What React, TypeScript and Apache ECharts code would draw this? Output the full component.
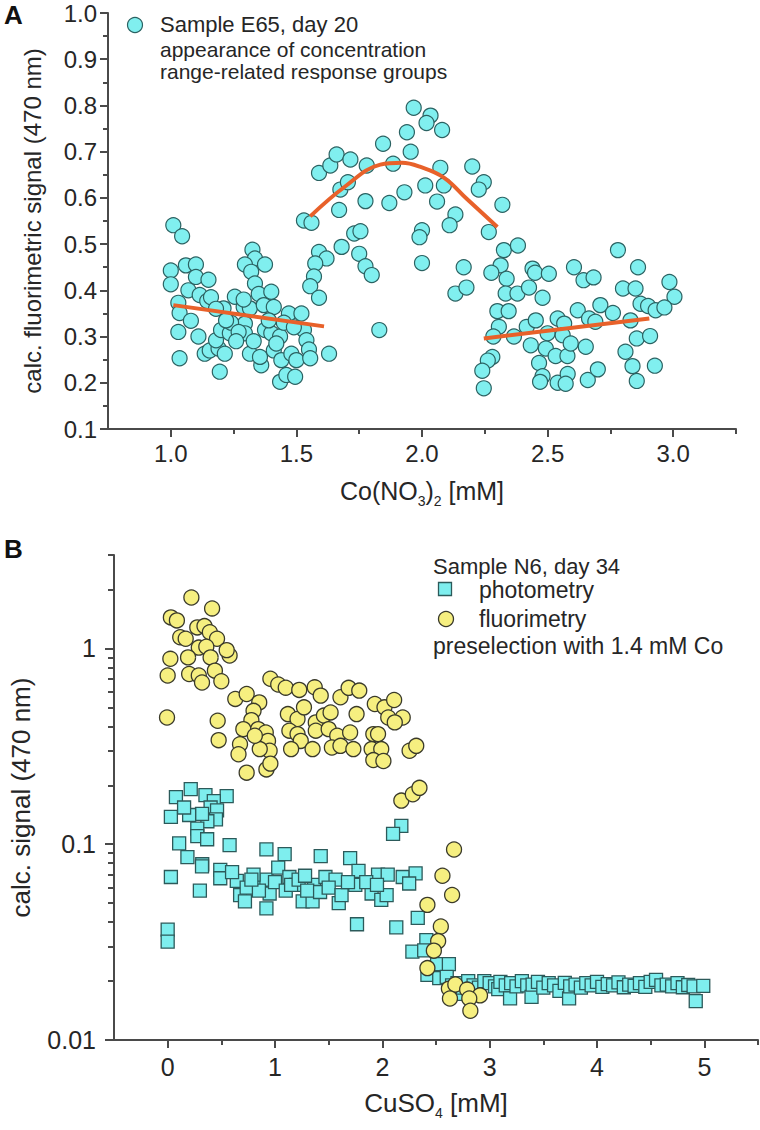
import React, { useEffect, useRef } from 'react';
import * as echarts from 'echarts';

// ---------- Panel A: Co(NO3)2 ----------
const coXTicks = [1.0, 1.5, 2.0, 2.5, 3.0];
const coXMinor = [1.25, 1.75, 2.25, 2.75, 3.25];

const sampleE65: [number, number][] = [
  [1.01, 0.541], [1.045, 0.517], [1.0, 0.443], [1.0, 0.413], [1.06, 0.454], [1.1, 0.456],
  [1.1, 0.429], [1.15, 0.423], [1.07, 0.4], [1.115, 0.39], [1.145, 0.377], [1.03, 0.373],
  [1.035, 0.351], [1.08, 0.334], [1.03, 0.31], [1.11, 0.3], [1.035, 0.253], [1.135, 0.263],
  [1.155, 0.27], [1.19, 0.274], [1.215, 0.263], [1.195, 0.224], [1.18, 0.292], [1.2, 0.314],
  [1.235, 0.307], [1.255, 0.386], [1.21, 0.361], [1.29, 0.364], [1.315, 0.361], [1.295, 0.328],
  [1.295, 0.307], [1.315, 0.263], [1.36, 0.238], [1.355, 0.256], [1.325, 0.488], [1.335, 0.469],
  [1.375, 0.456], [1.295, 0.456], [1.32, 0.44], [1.335, 0.415], [1.35, 0.392], [1.4, 0.397],
  [1.37, 0.368], [1.41, 0.364], [1.375, 0.314], [1.4, 0.307], [1.435, 0.3], [1.41, 0.27],
  [1.44, 0.249], [1.435, 0.202], [1.46, 0.217], [1.495, 0.213], [1.47, 0.35], [1.52, 0.35],
  [1.48, 0.263], [1.5, 0.249], [1.53, 0.314], [1.54, 0.292], [1.55, 0.272], [1.555, 0.253],
  [1.63, 0.263], [1.83, 0.314], [1.24, 0.33], [1.27, 0.31], [1.22, 0.335], [1.45, 0.33],
  [1.49, 0.32], [1.16, 0.385], [1.18, 0.36], [1.26, 0.29], [1.42, 0.285], [1.33, 0.29],
  [1.39, 0.335], [1.29, 0.38],
  [1.53, 0.551], [1.56, 0.546], [1.59, 0.483], [1.62, 0.469], [1.575, 0.458], [1.57, 0.43],
  [1.555, 0.409], [1.59, 0.384], [1.68, 0.494], [1.73, 0.523], [1.755, 0.528], [1.75, 0.479],
  [1.775, 0.452], [1.8, 0.433], [1.59, 0.654], [1.635, 0.67], [1.66, 0.694], [1.715, 0.683],
  [1.78, 0.67], [1.675, 0.618], [1.705, 0.634], [1.67, 0.574], [1.775, 0.593], [1.87, 0.589],
  [1.845, 0.717], [1.955, 0.7], [1.885, 0.674], [1.93, 0.612], [1.967, 0.795], [2.034, 0.778],
  [2.018, 0.762], [2.08, 0.747], [1.94, 0.742], [2.073, 0.665], [2.2, 0.668], [2.246, 0.634],
  [2.226, 0.618], [2.013, 0.627], [2.087, 0.627], [2.06, 0.592], [2.32, 0.585], [2.133, 0.564],
  [2.11, 0.541], [2.0, 0.53], [1.99, 0.515], [2.266, 0.526], [2.0, 0.459], [2.166, 0.45],
  [2.133, 0.393], [2.177, 0.406],
  [2.326, 0.487], [2.382, 0.497], [2.313, 0.454], [2.276, 0.438], [2.337, 0.425], [2.333, 0.393],
  [2.38, 0.393], [2.44, 0.447], [2.45, 0.438], [2.505, 0.436], [2.426, 0.406], [2.48, 0.384],
  [2.605, 0.45], [2.643, 0.422], [2.683, 0.428], [2.78, 0.487], [2.86, 0.45], [2.8, 0.404],
  [2.85, 0.404], [2.985, 0.418], [3.005, 0.386], [2.87, 0.371], [2.9, 0.366], [2.93, 0.357],
  [2.965, 0.363], [2.3, 0.355], [2.345, 0.355], [2.306, 0.321], [2.284, 0.3], [2.366, 0.3],
  [2.417, 0.321], [2.453, 0.335], [2.54, 0.339], [2.566, 0.328], [2.62, 0.357], [2.71, 0.368],
  [2.76, 0.351], [2.665, 0.339], [2.69, 0.332], [2.5, 0.307], [2.56, 0.303], [2.433, 0.281],
  [2.493, 0.274], [2.532, 0.258], [2.579, 0.258], [2.592, 0.285], [2.652, 0.278], [2.466, 0.243],
  [2.83, 0.335], [2.855, 0.296], [2.908, 0.301], [2.81, 0.267], [2.838, 0.236], [2.855, 0.204],
  [2.927, 0.237], [2.28, 0.256], [2.262, 0.248], [2.24, 0.226], [2.246, 0.188], [2.48, 0.214],
  [2.47, 0.202], [2.54, 0.2], [2.58, 0.219], [2.572, 0.198], [2.66, 0.206], [2.7, 0.229],
];

const fitLow: [number, number][] = [[1.01, 0.368], [1.61, 0.322]];
const fitMid: [number, number][] = [
  [1.555, 0.56], [1.69, 0.623], [1.834, 0.672], [1.92, 0.676], [1.994, 0.667],
  [2.087, 0.644], [2.18, 0.597], [2.3, 0.537],
];
const fitHigh: [number, number][] = [[2.246, 0.296], [2.905, 0.339]];

// ---------- Panel B: CuSO4 ----------
const cuXTicks = [0, 1, 2, 3, 4, 5];
const cuXMinor = [0.5, 1.5, 2.5, 3.5, 4.5, 5.5];
const logMajor = [0.01, 0.1, 1];
const logMinor = [
  0.02, 0.03, 0.04, 0.05, 0.06, 0.07, 0.08, 0.09,
  0.2, 0.3, 0.4, 0.5, 0.6, 0.7, 0.8, 0.9, 2, 3,
];

const photometry: [number, number][] = [
  [0.215, 0.191], [0.077, 0.174], [0.352, 0.178], [0.55, 0.176], [0.43, 0.166], [0.4, 0.154],
  [0.46, 0.149], [0.45, 0.134], [0.37, 0.131], [0.32, 0.143], [0.03, 0.138], [0.2, 0.141],
  [0.153, 0.154], [0.276, 0.12], [0.276, 0.11], [0.368, 0.106], [0.107, 0.101], [0.577, 0.099],
  [0.184, 0.086], [0.322, 0.079], [0.92, 0.094], [1.09, 0.089], [1.426, 0.087], [1.7, 0.085],
  [2.177, 0.124], [2.1, 0.113], [0.03, 0.068], [0.3, 0.058], [0.0, 0.0366], [0.0, 0.0318],
  [1.764, 0.039], [0.92, 0.047], [0.32, 0.077], [0.49, 0.074], [0.49, 0.067], [0.644, 0.065],
  [0.675, 0.055], [0.72, 0.051], [0.736, 0.06], [0.858, 0.062], [0.95, 0.056], [0.92, 0.066],
  [1.03, 0.076], [1.134, 0.068], [1.196, 0.062], [1.258, 0.051], [1.35, 0.051], [1.364, 0.062],
  [1.47, 0.068], [1.564, 0.066], [1.594, 0.05], [1.748, 0.062], [1.778, 0.073], [1.9, 0.056],
  [1.96, 0.07], [1.99, 0.052], [2.05, 0.07], [2.19, 0.068], [2.31, 0.071], [2.25, 0.063],
  [2.04, 0.055], [0.6, 0.072], [0.8, 0.07], [0.85, 0.058], [1.0, 0.064], [1.1, 0.058],
  [1.15, 0.062], [1.22, 0.066], [1.3, 0.058], [1.42, 0.057], [1.5, 0.06], [1.62, 0.055],
  [1.68, 0.064], [1.85, 0.064], [1.95, 0.062], [0.78, 0.066], [1.28, 0.069],
  [2.13, 0.0376], [2.33, 0.042], [2.41, 0.0324], [2.28, 0.0283], [2.39, 0.0287], [2.51, 0.0244],
  [2.62, 0.0244], [2.42, 0.0215], [2.53, 0.0207], [2.6, 0.021], [2.65, 0.019], [2.68, 0.0178],
  [2.7, 0.0195], [2.72, 0.0172], [2.75, 0.0185], [2.8, 0.02], [2.85, 0.019], [2.88, 0.0176],
  [2.9, 0.0185], [2.95, 0.02], [3.0, 0.0195], [3.05, 0.0188], [3.08, 0.0182], [3.1, 0.0198],
  [3.15, 0.019], [3.19, 0.0163], [3.2, 0.0195], [3.25, 0.0188], [3.3, 0.02], [3.35, 0.019],
  [3.39, 0.0166], [3.4, 0.0192], [3.45, 0.0198], [3.5, 0.0185], [3.55, 0.0195], [3.6, 0.019],
  [3.65, 0.0178], [3.7, 0.0196], [3.74, 0.0163], [3.75, 0.0188], [3.8, 0.0192], [3.85, 0.0185],
  [3.9, 0.0195], [3.95, 0.019], [4.0, 0.0198], [4.05, 0.0187], [4.1, 0.0193], [4.15, 0.019],
  [4.2, 0.0197], [4.25, 0.0186], [4.3, 0.0192], [4.35, 0.0189], [4.4, 0.0195], [4.45, 0.0187],
  [4.5, 0.0198], [4.55, 0.0203], [4.6, 0.019], [4.65, 0.0192], [4.7, 0.0188], [4.75, 0.0195],
  [4.8, 0.0186], [4.85, 0.0191], [4.9, 0.0188], [4.92, 0.0158], [4.99, 0.0189],
];

const fluorimetry: [number, number][] = [
  [0.221, 1.82], [0.414, 1.6], [0.03, 1.44], [0.086, 1.39], [0.276, 1.28], [0.343, 1.3],
  [0.393, 1.21], [0.46, 1.12], [0.117, 1.14], [0.168, 1.12], [0.29, 1.01], [0.36, 1.02],
  [0.4, 0.9], [0.577, 0.92], [0.55, 0.98], [0.025, 0.885], [0.19, 0.9], [0.0, 0.727],
  [0.2, 0.74], [0.29, 0.727], [0.32, 0.67], [0.44, 0.77], [0.5, 0.68], [-0.006, 0.444],
  [0.466, 0.427], [0.475, 0.34], [0.63, 0.552], [0.736, 0.585], [0.853, 0.53], [0.8, 0.48],
  [0.78, 0.43], [0.705, 0.387], [0.843, 0.387], [0.914, 0.372], [0.935, 0.337], [0.95, 0.3],
  [0.858, 0.306], [0.674, 0.324], [0.66, 0.288], [0.736, 0.232], [0.92, 0.241], [0.957, 0.258],
  [0.812, 0.358], [0.957, 0.7], [1.03, 0.654], [1.1, 0.63], [1.226, 0.614], [1.37, 0.633],
  [1.426, 0.574], [1.61, 0.563], [1.686, 0.629], [1.785, 0.609], [1.12, 0.462], [1.21, 0.436],
  [1.27, 0.5], [1.38, 0.419], [1.456, 0.454], [1.518, 0.471], [1.134, 0.38], [1.21, 0.365],
  [1.24, 0.337], [1.15, 0.306], [1.35, 0.306], [1.38, 0.38], [1.5, 0.387], [1.58, 0.358],
  [1.7, 0.372], [1.53, 0.312], [1.61, 0.318], [1.73, 0.306], [1.76, 0.462], [1.93, 0.52],
  [2.02, 0.5], [2.11, 0.545], [2.055, 0.444], [2.19, 0.444], [2.116, 0.419], [1.916, 0.365],
  [1.96, 0.365], [1.9, 0.306], [1.99, 0.306], [1.916, 0.269], [2.01, 0.266], [2.254, 0.3],
  [2.316, 0.318], [2.177, 0.167], [2.284, 0.18], [2.346, 0.194], [2.668, 0.094], [2.56, 0.069],
  [2.65, 0.055], [2.42, 0.049], [2.545, 0.038], [2.52, 0.032], [2.48, 0.0286], [2.42, 0.0233],
  [2.62, 0.0183], [2.68, 0.0192], [2.63, 0.0163], [2.79, 0.0181], [2.91, 0.0169], [2.81, 0.0163],
  [2.82, 0.0141],
];

const FONT = '"Liberation Sans", Arial, Helvetica, sans-serif';
const TXT = '#262626';
const AX = '#4a4a4a';

export default function App() {
  const ref = useRef<HTMLDivElement>(null);

  useEffect(() => {
    if (!ref.current) return;
    const chart = echarts.init(ref.current, undefined, { renderer: 'svg' });

    const axLine = { show: true, onZero: false, lineStyle: { color: AX, width: 2 } };
    const noLine = { show: false, onZero: false };
    const tick = (vals: number[] | null, len: number) => ({
      show: true,
      length: len,
      ...(vals ? { customValues: vals } : {}),
      lineStyle: { color: AX, width: 2 },
    });
    const lbl = (size: number, extra: any) => ({
      fontSize: size,
      fontFamily: FONT,
      color: TXT,
      ...extra,
    });
    const subRich = (size: number) => ({
      n: { fontSize: size, fontFamily: FONT, color: TXT, verticalAlign: 'top' },
      s: { fontSize: 14, fontFamily: FONT, color: TXT, verticalAlign: 'top', padding: [16, 0, 0, 0] },
    });
    const legendText = (text: string, x: number, y: number, size: number) => ({
      type: 'text', x, y,
      style: { text, fontSize: size, fontFamily: FONT, fill: TXT, verticalAlign: 'middle' },
    });

    const option: any = {
      animation: false,
      backgroundColor: '#ffffff',
      grid: [
        { left: 108, top: 13, width: 628, height: 416 },
        { left: 106, top: 555, width: 652, height: 485 },
      ],
      xAxis: [
        {
          gridIndex: 0, type: 'value', min: 0.75, max: 3.25, position: 'bottom',
          axisLine: axLine, axisTick: tick(coXTicks, 8), splitLine: { show: false },
          axisLabel: lbl(24, { customValues: coXTicks, margin: 12, formatter: (v: number) => v.toFixed(1) }),
          name: '{n|Co(NO}{s|3}{n|)}{s|2}{n| [mM]}', nameLocation: 'middle', nameGap: 49,
          nameTextStyle: { rich: subRich(25) },
        },
        {
          gridIndex: 0, type: 'value', min: 0.75, max: 3.25, position: 'bottom',
          axisLine: noLine, axisTick: tick(coXMinor, 5), axisLabel: { show: false },
          splitLine: { show: false },
        },
        {
          gridIndex: 1, type: 'value', min: -0.5, max: 5.5, position: 'bottom',
          axisLine: axLine, axisTick: tick(cuXTicks, 8), splitLine: { show: false },
          axisLabel: lbl(25, { customValues: cuXTicks, margin: 14, formatter: (v: number) => String(v) }),
          name: '{n|CuSO}{s|4}{n| [mM]}', nameLocation: 'middle', nameGap: 50,
          nameTextStyle: { rich: subRich(26) },
        },
        {
          gridIndex: 1, type: 'value', min: -0.5, max: 5.5, position: 'bottom',
          axisLine: noLine, axisTick: tick(cuXMinor, 5), axisLabel: { show: false },
          splitLine: { show: false },
        },
      ],
      yAxis: [
        {
          gridIndex: 0, type: 'value', min: 0.1, max: 1.0, interval: 0.1, position: 'left',
          axisLine: axLine, axisTick: tick(null, 8),
          minorTick: { show: true, splitNumber: 2, length: 5, lineStyle: { color: AX, width: 2 } },
          splitLine: { show: false }, minorSplitLine: { show: false },
          axisLabel: lbl(24, { margin: 11, formatter: (v: number) => v.toFixed(1) }),
          name: 'calc. fluorimetric signal (470 nm)', nameLocation: 'middle', nameGap: 64,
          nameTextStyle: { fontSize: 24, fontFamily: FONT, color: TXT },
        },
        {
          gridIndex: 1, type: 'log', logBase: 10, min: 0.01, max: 3, position: 'left',
          axisLine: axLine, axisTick: tick(logMajor, 9), splitLine: { show: false },
          axisLabel: lbl(25, { customValues: logMajor, margin: 18, formatter: (v: number) => String(v) }),
          name: 'calc. signal (470 nm)', nameLocation: 'middle', nameGap: 80,
          nameTextStyle: { fontSize: 26, fontFamily: FONT, color: TXT },
        },
        {
          gridIndex: 1, type: 'log', logBase: 10, min: 0.01, max: 3, position: 'left',
          axisLine: noLine, axisTick: tick(logMinor, 6), axisLabel: { show: false },
          splitLine: { show: false },
        },
      ],
      series: [
        {
          name: 'Sample E65, day 20', type: 'scatter', xAxisIndex: 0, yAxisIndex: 0,
          data: sampleE65, symbol: 'circle', symbolSize: 15, silent: true,
          itemStyle: { color: '#80efef', borderColor: '#2b6262', borderWidth: 1.2, opacity: 1 },
        },
        ...[fitLow, fitMid, fitHigh].map((d, i) => ({
          type: 'line', xAxisIndex: 0, yAxisIndex: 0, data: d, showSymbol: false, silent: true,
          smooth: i === 1 ? 0.4 : false,
          lineStyle: { color: '#e8612a', width: 4 },
        })),
        {
          name: 'photometry', type: 'scatter', xAxisIndex: 2, yAxisIndex: 1,
          data: photometry, symbol: 'rect', symbolSize: 13, silent: true,
          itemStyle: { color: '#7eeeee', borderColor: '#2c5a5a', borderWidth: 1.3, opacity: 1 },
        },
        {
          name: 'fluorimetry', type: 'scatter', xAxisIndex: 2, yAxisIndex: 1,
          data: fluorimetry, symbol: 'circle', symbolSize: 15, silent: true,
          itemStyle: { color: '#f6ef80', borderColor: '#3a3a2a', borderWidth: 1.3, opacity: 1 },
        },
      ],
      graphic: [
        { type: 'text', x: 4, y: 2, style: { text: 'A', fontSize: 26, fontWeight: 'bold', fontFamily: FONT, fill: '#111' } },
        { type: 'text', x: 4, y: 536, style: { text: 'B', fontSize: 26, fontWeight: 'bold', fontFamily: FONT, fill: '#111' } },
        { type: 'circle', shape: { cx: 135, cy: 25, r: 7.5 }, style: { fill: '#80efef', stroke: '#2b6262', lineWidth: 1.2 } },
        legendText('Sample E65, day 20', 160, 24.5, 22),
        legendText('appearance of concentration', 160, 49.5, 21),
        legendText('range-related response groups', 160, 71.3, 21),
        legendText('Sample N6, day 34', 433, 566, 22),
        { type: 'rect', shape: { x: 438.5, y: 582.5, width: 13, height: 13 }, style: { fill: '#7eeeee', stroke: '#2c5a5a', lineWidth: 1.3 } },
        legendText('photometry', 479, 590, 23),
        { type: 'circle', shape: { cx: 446, cy: 619, r: 7.5 }, style: { fill: '#f6ef80', stroke: '#3a3a2a', lineWidth: 1.3 } },
        legendText('fluorimetry', 479, 619, 23),
        legendText('preselection with 1.4 mM Co', 433, 646, 23),
      ],
    };

    chart.setOption(option);
    return () => chart.dispose();
  }, []);

  return (
    <div
      ref={ref}
      style={{ position: 'absolute', left: 0, top: 0, width: 760, height: 1130, background: '#fff' }}
    />
  );
}
